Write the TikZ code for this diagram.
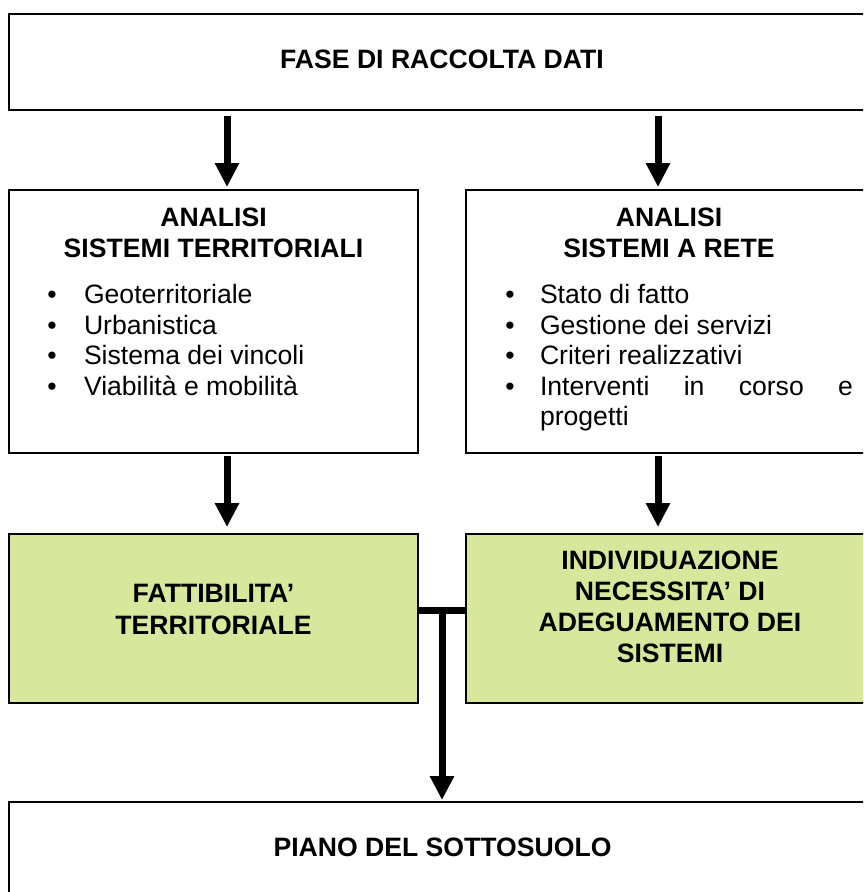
\documentclass[tikz,border=0pt]{standalone}
\usepackage{fontspec}
\setmainfont{Liberation Sans}
\usetikzlibrary{arrows.meta,calc}
\definecolor{boxgreen}{RGB}{215,232,156}
\begin{document}
\begin{tikzpicture}[x=1pt,y=-1pt,
  box/.style={draw=black,line width=1.6pt,inner sep=0pt,outer sep=0pt},
  txt/.style={inner sep=0pt,outer sep=0pt,anchor=base,font=\fontsize{26.6}{30}\selectfont},
  btxt/.style={txt,font=\fontsize{26.6}{30}\selectfont\bfseries},
  ltxt/.style={txt,anchor=base west},
  arr/.style={line width=7pt,-{Triangle[width=23pt,length=24pt]}}]
\useasboundingbox (0,0) rectangle (863,892);
\begin{scope}
\clip (0,0) rectangle (863,892);
\node[box,minimum width=867pt,minimum height=96pt] (top) at (442.5,62) {};
\node[box,minimum width=409pt,minimum height=263pt] (a2l) at (213.5,321.5) {};
\node[box,minimum width=404pt,minimum height=263pt] (a2r) at (668,321.5) {};
\node[box,fill=boxgreen,minimum width=409pt,minimum height=169pt] (a3l) at (213.5,618.5) {};
\node[box,fill=boxgreen,minimum width=404pt,minimum height=169pt] (a3r) at (668,618.5) {};
\node[box,minimum width=867pt,minimum height=198pt] (bot) at (442.5,901) {};
\end{scope}
% arrows
\coordinate (xl) at (227,0);
\coordinate (xr) at (658,0);
\draw[arr] ($(top.south -| xl)+(0,6)$) -- ($(a2l.north -| xl)+(0,-3)$);
\draw[arr] ($(top.south -| xr)+(0,6)$) -- ($(a2r.north -| xr)+(0,-3)$);
\draw[arr] ($(a2l.south -| xl)+(0,3)$) -- ($(a3l.north -| xl)+(0,-7)$);
\draw[arr] ($(a2r.south -| xr)+(0,3)$) -- ($(a3r.north -| xr)+(0,-7)$);
% T junction
\coordinate (jl) at ($(a3l.east)+(0,-8)$);
\coordinate (jr) at ($(a3r.west)+(0,-8)$);
\draw[line width=7pt] (jl) -- (jr);
\coordinate (jm) at ($(jl)!0.5!(jr)$);
\draw[arr] (jm) -- ($(bot.north -| jm)+(0,-2)$);
% texts
\node[btxt] (t1) at (442,68) {FASE DI RACCOLTA DATI};
\node[btxt] (h1a) at (213.5,226) {ANALISI};
\node[btxt] (h1b) at (213.5,257) {SISTEMI TERRITORIALI};
\node[txt] (bl1) at (52,303) {•};
\node[txt] (bl2) at (52,334) {•};
\node[txt] (bl3) at (52,364) {•};
\node[txt] (bl4) at (52,395) {•};
\node[ltxt] (il1) at (84,303) {Geoterritoriale};
\node[ltxt] (il2) at (84,334) {Urbanistica};
\node[ltxt] (il3) at (84,364) {Sistema dei vincoli};
\node[ltxt] (il4) at (84,395) {Viabilità e mobilità};
\node[btxt] (h2a) at (669,226) {ANALISI};
\node[btxt] (h2b) at (669,257) {SISTEMI A RETE};
\node[txt] (br1) at (510,303) {•};
\node[txt] (br2) at (510,334) {•};
\node[txt] (br3) at (510,364) {•};
\node[txt] (br4) at (510,395) {•};
\node[ltxt] (ir1) at (540,303) {Stato di fatto};
\node[ltxt] (ir2) at (540,334) {Gestione dei servizi};
\node[ltxt] (ir3) at (540,364) {Criteri realizzativi};
\node[ltxt] (ir4) at (540,395) {\hbox to 313pt{Interventi\hfill in\hfill corso\hfill e}};
\node[ltxt] (ir5) at (540,425) {progetti};
\node[btxt] (g1a) at (213.5,602) {FATTIBILITA’};
\node[btxt] (g1b) at (213.5,634) {TERRITORIALE};
\node[btxt] (g2a) at (670,569) {INDIVIDUAZIONE};
\node[btxt] (g2b) at (670,600) {NECESSITA’ DI};
\node[btxt] (g2c) at (670,631) {ADEGUAMENTO DEI};
\node[btxt] (g2d) at (670,662) {SISTEMI};
\node[btxt] (b1) at (442.5,856) {PIANO DEL SOTTOSUOLO};
\end{tikzpicture}
\end{document}
